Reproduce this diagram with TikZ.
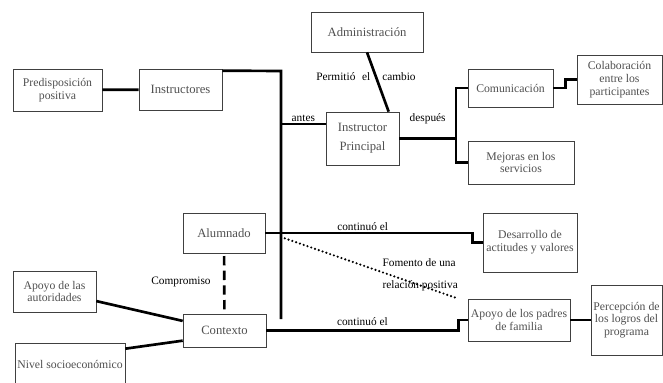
\documentclass[tikz,border=0pt]{standalone}
\usepackage{fontspec}
\setmainfont{Liberation Serif}
\usetikzlibrary{shadows}
\definecolor{boxtext}{RGB}{80,80,80}

\begin{document}
\begin{tikzpicture}[x=0.75pt,y=-0.75pt,
    box/.style={draw=black!75,line width=0.5pt,fill=white,align=center,inner sep=1pt,text=boxtext,
        font=\fontsize{9.5}{11}\selectfont,
        drop shadow={shadow xshift=1pt,shadow yshift=-1pt,fill=black!40,opacity=0.6}},
    smallbox/.style={box,font=\fontsize{8.8}{9.6}\selectfont},
    link/.style={line width=2pt},
    lbl/.style={font=\fontsize{8.5}{10}\selectfont,text=black,inner sep=1pt}]
        \useasboundingbox (0,0) rectangle (663,382);

        \node[smallbox, minimum width=66.75pt, minimum height=31.5pt] (pre) at (57.5,90) {Predisposición\\positiva};
        \node[box, minimum width=62.25pt, minimum height=30.75pt] (ins) at (180.5,89.5) {Instructores};
        \node[box, minimum width=84pt, minimum height=30pt] (adm) at (367,32) {Administración};
        \node[box, minimum width=54.75pt, minimum height=39.75pt, font=\fontsize{9.5}{14}\selectfont] (ip) at (362.5,138.5) {Instructor\\Principal};
        \node[smallbox, minimum width=63.75pt, minimum height=28.5pt] (com) at (510.5,88) {Comunicación};
        \node[smallbox, minimum width=79.5pt, minimum height=32.25pt] (mej) at (521,162.5) {Mejoras en los\\servicios};
        \node[smallbox, minimum width=63.75pt, minimum height=36.75pt] (col) at (619.5,79.5) {Colaboración\\entre los\\participantes};
        \node[box, minimum width=61.5pt, minimum height=30pt] (alu) at (224,233) {Alumnado};
        \node[box, minimum width=62.25pt, minimum height=24.75pt] (con) at (224.5,330.5) {Contexto};
        \node[smallbox, minimum width=62.25pt, minimum height=30.75pt] (aut) at (54.5,291.5) {Apoyo de las\\autoridades};
        \node[smallbox, minimum width=82.5pt, minimum height=32.25pt] (niv) at (70,364.5) {Nivel socioeconómico};
        \node[smallbox, minimum width=70.5pt, minimum height=44.25pt] (des) at (530,242.5) {Desarrollo de\\actitudes y valores};
        \node[smallbox, minimum width=76.5pt, minimum height=31.5pt] (pad) at (519,320) {Apoyo de los padres\\de familia};
        \node[smallbox, minimum width=53.25pt, minimum height=52.5pt] (per) at (626.5,320) {Percepción de\\los logros del\\programa};

        \node[lbl] (perm) at (366,77) {Permitió\hspace{5pt}el\hspace{9pt}cambio};
        \node[lbl] (comp) at (181,282) {Compromiso};
        \node[lbl, anchor=west, align=left, font=\fontsize{8.5}{16.5}\selectfont] (rel) at (381,275) {Fomento de una\\relación positiva};

        \coordinate (top) at (281,71);
        \coordinate (bot) at (281,319);
        \coordinate (split) at (456,138.5);
        \coordinate (dot) at (281,237);

        \draw [link] (pre) -- (ins);
        \draw [link] ([yshift=-1.5pt]ins.north east) -- (top) -- (bot);
        \draw [link] ([yshift=10.9pt]ip.west) -- ([yshift=10.9pt]ip.west -| top) node[lbl, midway, above] {antes};
        \draw [link] (adm.south) -- ([xshift=-8pt]ip.north east);
        \draw [link] (ip.east) -- (split) node[lbl, midway, above=9pt] {después};
        \draw [link] (com.west) -| (split) |- (mej.west);
        \draw [link] (com.east) -- ++(12,0) |- (col.west);
        \draw [link] (alu.east) -- node[lbl, pos=0.47, above] {continuó el} ++(207,0) |- (des.west);
        \draw [link] (con.east) -- node[lbl, pos=0.5, above=2pt] {continuó el} ++(192,0) |- (pad.west);
        \draw [link] (pad) -- (per);
        \draw [link, dash pattern=on 7pt off 4pt, shorten <=2pt, shorten >=3pt] (alu) -- (con);
        \draw [link] (aut) -- (con);
        \draw [link] ([yshift=-4.5pt]niv.north east) -- ([yshift=5pt]con.south west);
        \draw [line width=1.8pt, line cap=round, dash pattern=on 0pt off 3pt] (dot) -- ([xshift=-7pt]pad.north west);
    \end{tikzpicture}
\end{document}
